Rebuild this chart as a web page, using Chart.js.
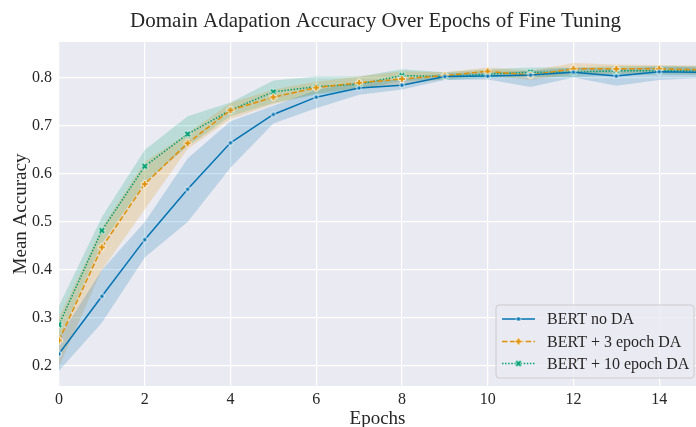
<!DOCTYPE html>
<html><head><meta charset="utf-8">
<script src="https://cdn.jsdelivr.net/npm/chart.js@4/dist/chart.umd.min.js"></script>
<style>html,body{margin:0;padding:0;background:#fff}#wrap{width:696px;height:427px}</style>
</head><body><div id="wrap"><canvas id="c"></canvas></div>
<script>
// ---- data ----
const epochs = [0,1,2,3,4,5,6,7,8,9,10,11,12,13,14,15];
const seriesNames = ['BERT no DA','BERT + 3 epoch DA','BERT + 10 epoch DA'];
const noDAMean = [0.225,0.345,0.463,0.568,0.665,0.724,0.760,0.779,0.785,0.803,0.804,0.806,0.812,0.804,0.813,0.812];
const noDALow  = [0.190,0.290,0.426,0.500,0.613,0.705,0.737,0.765,0.776,0.796,0.797,0.781,0.801,0.784,0.796,0.800];
const noDAHigh = [0.259,0.400,0.500,0.632,0.710,0.742,0.775,0.792,0.797,0.810,0.812,0.815,0.822,0.818,0.824,0.822];
const da3Mean  = [0.253,0.447,0.579,0.664,0.733,0.760,0.780,0.790,0.798,0.805,0.814,0.806,0.819,0.819,0.819,0.817];
const da3Low   = [0.198,0.400,0.526,0.652,0.714,0.745,0.768,0.779,0.786,0.798,0.805,0.796,0.808,0.809,0.810,0.808];
const da3High  = [0.300,0.488,0.625,0.685,0.748,0.776,0.792,0.803,0.814,0.812,0.822,0.815,0.831,0.828,0.827,0.826];
const da10Mean = [0.286,0.482,0.616,0.683,0.733,0.771,0.782,0.787,0.805,0.803,0.808,0.812,0.812,0.815,0.815,0.815];
const da10Low  = [0.255,0.455,0.582,0.657,0.720,0.748,0.765,0.776,0.794,0.796,0.800,0.802,0.802,0.806,0.806,0.806];
const da10High = [0.325,0.510,0.650,0.720,0.749,0.795,0.803,0.803,0.818,0.812,0.818,0.822,0.822,0.825,0.825,0.825];
const xTicks = [0,2,4,6,8,10,12,14];
const yTicks = [0.2,0.3,0.4,0.5,0.6,0.7,0.8];
const titleText = 'Domain Adapation Accuracy Over Epochs of Fine Tuning';
const xLabel = 'Epochs';
const yLabel = 'Mean Accuracy';

// ---- styles ----
const FONT = '"Liberation Serif", "DejaVu Serif", serif';
const TXT = '#262626';
const colors = ['#0173B2','#DE8F05','#029E73'];
const bands = ['rgba(1,115,178,0.2)','rgba(222,143,5,0.2)','rgba(2,158,115,0.2)'];
const dashes = [[], [5.5,2.4], [1.5,1.6]];
const markerKinds = ['square','plus','x'];

function makeMarker(kind, color){
  const s = 12, c = document.createElement('canvas');
  c.width = s; c.height = s;
  const g = c.getContext('2d');
  g.translate(s/2, s/2);
  g.fillStyle = color; g.strokeStyle = '#ffffff'; g.lineWidth = 0.8; g.lineJoin = 'miter';
  g.beginPath();
  if (kind === 'square') {
    g.rect(-2, -2, 4, 4);
  } else {
    if (kind === 'x') g.rotate(Math.PI/4);
    const a = 1.3, b = 3.6;
    g.moveTo(-a,-b); g.lineTo(a,-b); g.lineTo(a,-a); g.lineTo(b,-a); g.lineTo(b,a);
    g.lineTo(a,a); g.lineTo(a,b); g.lineTo(-a,b); g.lineTo(-a,a); g.lineTo(-b,a);
    g.lineTo(-b,-a); g.lineTo(-a,-a); g.closePath();
  }
  g.fill(); g.stroke();
  return c;
}
const markers = markerKinds.map((k,i)=>makeMarker(k, colors[i]));

const toPts = arr => arr.map((v,i)=>({x: epochs[i], y: v}));
const means = [noDAMean, da3Mean, da10Mean];
const lows = [noDALow, da3Low, da10Low];
const highs = [noDAHigh, da3High, da10High];

const datasets = [];
for (let i=0;i<3;i++){
  datasets.push({label:'_hi'+i, data: toPts(highs[i]), borderWidth:0, pointRadius:0, fill:'+1', backgroundColor: bands[i], borderColor:'rgba(0,0,0,0)', tension:0});
  datasets.push({label:'_lo'+i, data: toPts(lows[i]), borderWidth:0, pointRadius:0, fill:false, borderColor:'rgba(0,0,0,0)', tension:0});
}
for (let i=0;i<3;i++){
  datasets.push({label: seriesNames[i], data: toPts(means[i]), borderColor: colors[i], borderWidth:1.5,
    borderDash: dashes[i], pointStyle: markers[i], pointRadius:4, fill:false, tension:0});
}

const plotBg = {
  id: 'plotBg',
  beforeDraw(chart){
    const a = chart.chartArea, c = chart.ctx;
    c.save(); c.fillStyle = '#EAEAF2'; c.fillRect(a.left, a.top, a.right-a.left, a.bottom-a.top); c.restore();
  }
};

const textPlugin = {
  id: 'texts',
  afterDraw(chart){
    const ctx = chart.ctx, a = chart.chartArea;
    ctx.save();
    ctx.fillStyle = TXT;
    ctx.textAlign = 'center'; ctx.textBaseline = 'alphabetic';
    ctx.font = '21px ' + FONT;
    ctx.fillText(titleText, (a.left + a.right)/2 - 2, 27);
    ctx.restore();
  }
};

const legendPlugin = {
  id: 'insideLegend',
  afterDraw(chart){
    const ctx = chart.ctx, a = chart.chartArea;
    const w = 198, h = 73;
    const x0 = a.right - w - 2, y0 = a.bottom - h - 8;
    ctx.save();
    ctx.beginPath();
    if (ctx.roundRect) ctx.roundRect(x0, y0, w, h, 3); else ctx.rect(x0,y0,w,h);
    ctx.fillStyle = 'rgba(234,234,242,0.8)'; ctx.fill();
    ctx.strokeStyle = '#cccccc'; ctx.lineWidth = 1; ctx.stroke();
    const rows = [14, 36.5, 58.5];
    ctx.font = '16px ' + FONT; ctx.textBaseline = 'middle'; ctx.textAlign = 'left';
    for (let i=0;i<3;i++){
      const y = y0 + rows[i];
      ctx.beginPath(); ctx.setLineDash(dashes[i]); ctx.strokeStyle = colors[i]; ctx.lineWidth = 1.5;
      ctx.moveTo(x0+6, y); ctx.lineTo(x0+39, y); ctx.stroke();
      ctx.setLineDash([]);
      ctx.drawImage(markers[i], x0+22.5-6, y-6);
      ctx.fillStyle = TXT; ctx.fillText(seriesNames[i], x0+51, y+1);
    }
    ctx.restore();
  }
};

new Chart(document.getElementById('c'), {
  type: 'line',
  data: { datasets },
  plugins: [plotBg, textPlugin, legendPlugin],
  options: {
    responsive: true, maintainAspectRatio: false, animation: false, events: [],
    layout: { autoPadding: false, padding: { top: 42, left: 0, right: 0, bottom: 0 } },
    plugins: {
      legend: { display: false }, tooltip: { enabled: false },
      filler: { drawTime: 'beforeDatasetsDraw' },
      title: { display: false }
    },
    scales: {
      x: {
        type: 'linear', min: 0, max: 14.86,
        grid: { color: '#ffffff', lineWidth: 1.2, drawTicks: false },
        border: { display: false },
        ticks: { color: TXT, font: { family: FONT, size: 16 }, padding: 4, maxRotation: 0 },
        afterBuildTicks: s => { s.ticks = xTicks.map(v=>({value:v})); },
        afterFit: s => { s.height = 41; s.paddingRight = 0; s.paddingLeft = 0; },
        title: { display: true, text: xLabel, color: TXT, font: { family: FONT, size: 19 }, padding: { top: 0, bottom: -3 } }
      },
      y: {
        min: 0.158, max: 0.875,
        grid: { color: '#ffffff', lineWidth: 1.2, drawTicks: false },
        border: { display: false },
        ticks: { color: TXT, font: { family: FONT, size: 16 }, padding: 7, callback: v => Number(v).toFixed(1) },
        afterBuildTicks: s => { s.ticks = yTicks.map(v=>({value:v})); },
        afterFit: s => { s.width = 59; s.paddingTop = 0; s.paddingBottom = 0; },
        title: { display: true, text: yLabel, color: TXT, font: { family: FONT, size: 19 }, padding: { top: 10, bottom: 0 } }
      }
    }
  },
});
</script>
</body></html>
